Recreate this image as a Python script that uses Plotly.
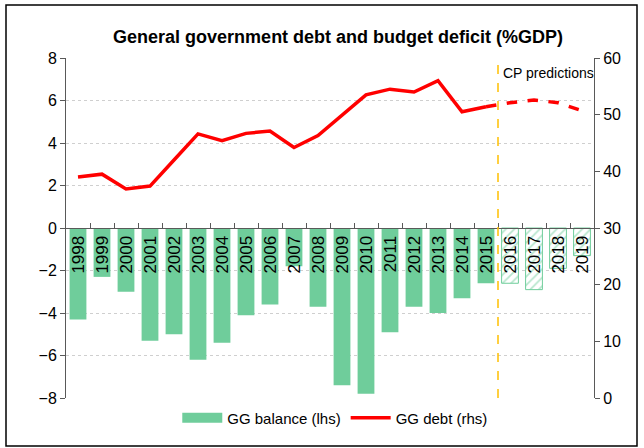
import plotly.graph_objects as go

years = [str(y) for y in range(1998, 2020)]
balance = [-4.3, -2.3, -3.0, -5.3, -5.0, -6.2, -5.4, -4.1, -3.6, -1.8, -3.7,
           -7.4, -7.8, -4.9, -3.7, -4.0, -3.3, -2.6, -2.6, -2.9, -1.9, -1.3]
debt = [39.0, 39.5, 36.9, 37.4, 42.0, 46.6, 45.4, 46.7, 47.1, 44.2, 46.3,
        50.0, 53.5, 54.5, 54.0, 56.0, 50.5, 51.4, 52.1, 52.6, 52.1, 50.7]
n_actual = 18  # 1998-2015 actual, 2016-2019 predictions

GREEN = "#6FCD9B"
RED = "#FF0000"
AXC = "#595959"
FONT = "Liberation Sans, Arial, sans-serif"

fig = go.Figure()
fig.add_trace(go.Bar(x=years[:n_actual], y=balance[:n_actual], marker=dict(color=GREEN, line=dict(width=0)),
                     width=0.7, showlegend=False, yaxis="y"))
fig.add_trace(go.Bar(x=years[n_actual:], y=balance[n_actual:], width=0.7,
                     marker=dict(color="white", line=dict(color=GREEN, width=1),
                                 pattern=dict(shape="/", fgcolor=GREEN, bgcolor="white", size=6, solidity=0.3)),
                     showlegend=False, yaxis="y"))
# legend proxy for bars
fig.add_trace(go.Scatter(x=[None], y=[None], mode="lines", line=dict(color=GREEN, width=10),
                         name="GG balance (lhs)", yaxis="y"))
fig.add_trace(go.Scatter(x=years[:n_actual], y=debt[:n_actual], mode="lines",
                         line=dict(color=RED, width=3.5), name="GG debt (rhs)", yaxis="y2"))
fig.add_trace(go.Scatter(x=years[n_actual - 1:], y=debt[n_actual - 1:], mode="lines",
                         line=dict(color=RED, width=3.5, dash="dash"), showlegend=False, yaxis="y2"))

# plot area pixel geometry: x 66-594, y 58-398
L, R, T, B = 66, 594, 58, 398
W, H = 644, 448
def px(xp):
    return (xp - L) / (R - L)
def py(yp):
    return (B - yp) / (B - T)

fig.update_layout(
    width=W, height=H,
    margin=dict(l=L, r=W - R, t=T, b=H - B),
    paper_bgcolor="white", plot_bgcolor="white",
    font=dict(family=FONT, size=16, color="black"),
    barmode="overlay",
    title=dict(text="<b>General government debt and budget deficit (%GDP)</b>",
               x=0.525, xanchor="center", y=1 - 37 / H, yanchor="middle",
               font=dict(size=18, family=FONT, color="black")),
    xaxis=dict(type="category", range=[-0.5, 21.5], anchor="free", position=0.5,
               showline=True, linecolor=AXC, linewidth=1,
               ticks="inside", ticklen=5, tickcolor=AXC, tickson="boundaries",
               tickangle=-90, tickfont=dict(size=17), showgrid=False, zeroline=False),
    yaxis=dict(range=[-8, 8], dtick=2, showline=True, linecolor=AXC, linewidth=1,
               ticks="outside", ticklen=5, tickcolor=AXC, tickfont=dict(size=16),
               showgrid=True, gridcolor="#CFCFCF", griddash="dot", gridwidth=1,
               zeroline=False),
    yaxis2=dict(range=[0, 60], dtick=10, overlaying="y", side="right", showline=True,
                linecolor=AXC, linewidth=1, ticks="outside", ticklen=5, tickcolor=AXC,
                tickfont=dict(size=16), showgrid=False, zeroline=False),
    legend=dict(orientation="h", x=0.51, xanchor="center", y=py(418), yanchor="middle",
                font=dict(size=15), itemwidth=40, bgcolor="rgba(0,0,0,0)"),
    shapes=[
        dict(type="line", xref="x", yref="paper", x0=17.5, x1=17.5, y0=0, y1=1,
             line=dict(color="#FFC000", width=1.5, dash="dash")),
        dict(type="rect", xref="paper", yref="paper", x0=px(6), x1=px(637), y0=py(446), y1=py(5),
             line=dict(color="black", width=1.5), layer="below"),
    ],
    annotations=[
        dict(text="CP predictions", xref="x", yref="paper", x=17.5, y=py(73), xanchor="left",
             yanchor="middle", xshift=3, showarrow=False, font=dict(size=14)),
    ],
)

fig.write_html("out.html")
